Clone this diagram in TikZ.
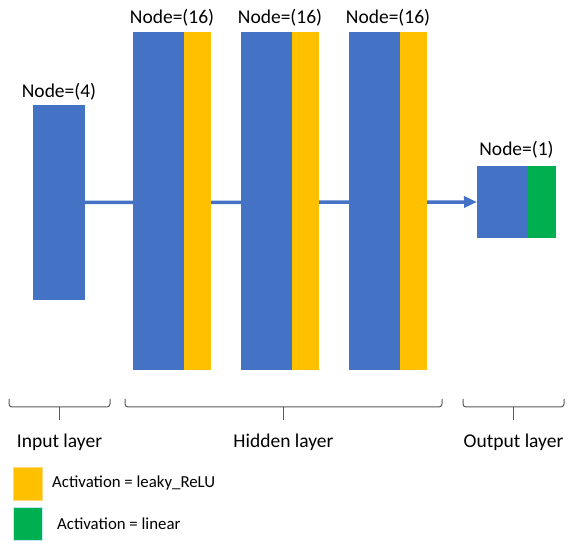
\documentclass[tikz,border=0pt]{standalone}
\usepackage{fontspec}
\setmainfont{Carlito}
\usetikzlibrary{positioning,arrows.meta,backgrounds,calc}

\definecolor{layerblue}{HTML}{4472C4}
\definecolor{reluorange}{HTML}{FFC000}
\definecolor{lingreen}{HTML}{00B050}
\definecolor{bracegray}{HTML}{595959}

\tikzset{
  block/.style={fill=layerblue, inner sep=0pt, outer sep=0pt, anchor=north west},
  relu/.style={fill=reluorange, inner sep=0pt, outer sep=0pt, anchor=north west},
  lin/.style={fill=lingreen, inner sep=0pt, outer sep=0pt, anchor=north west},
  count/.style={inner sep=0pt, font=\fontsize{19.5}{22}\selectfont},
  layername/.style={inner sep=0pt, anchor=base, font=\fontsize{19.5}{22}\selectfont},
  legendtext/.style={inner sep=0pt, anchor=west, font=\fontsize{16.8}{20}\selectfont},
  bracket/.style={draw=bracegray, line width=1pt, rounded corners=3pt},
}

\begin{document}
\begin{tikzpicture}[x=1pt,y=-1pt]
    \useasboundingbox (0,0) rectangle (568,545);

    % Input layer
    \node[block, minimum width=52, minimum height=195] (in) at (33,105) {};
    \node[count, above=5pt of in] (nin) {Node=(4)};

    % Hidden layers
    \foreach \i/\x in {1/133,2/241,3/349} {
        \node[block, minimum width=51, minimum height=338] (h\i) at (\x,32) {};
        \node[relu, minimum width=27, minimum height=338] (r\i) at (h\i.north east) {};
        \node[count, above=6pt] (nh\i) at ($(h\i.north west)!0.5!(r\i.north east)$) {Node=(16)};
    }

    % Output layer
    \node[block, minimum width=51, minimum height=72] (out) at (477,166) {};
    \node[lin, minimum width=28, minimum height=72] (outa) at (out.north east) {};
    \node[count, above=8pt] (nout) at ($(out.north west)!0.5!(outa.north east)$) {Node=(1)};

    % Flow line behind the blocks
    \begin{pgfonlayer}{background}
        \draw[line width=3.5pt, layerblue, -{Triangle[length=13pt,width=11pt]}] (in.east) -- (out.west);
    \end{pgfonlayer}

    % Braces under the layers
    \foreach \a/\b/\name/\txt in {9/110/lin1/Input layer, 125/442/lhid/Hidden layer, 463/564/lout/Output layer} {
        \draw[bracket] (\a,399) -- (\a,407) -- (\b,407) -- (\b,399);
        \draw[bracket] ({(\a+\b)/2},407) -- ({(\a+\b)/2},420);
        \node[layername] (\name) at ({(\a+\b)/2},447) {\txt};
    }

    % Legend
    \node[relu, draw=reluorange!55!white, line width=0.8pt, minimum width=29, minimum height=33] (kr) at (13,467) {};
    \node[legendtext, right=10pt of kr] (krtext) {Activation = leaky\_ReLU};
    \node[lin, draw=cyan!25!white, line width=0.8pt, minimum width=29, minimum height=33] (kl) at (13,507) {};
    \node[legendtext, right=15pt of kl] (kltext) {Activation = linear};
\end{tikzpicture}
\end{document}
